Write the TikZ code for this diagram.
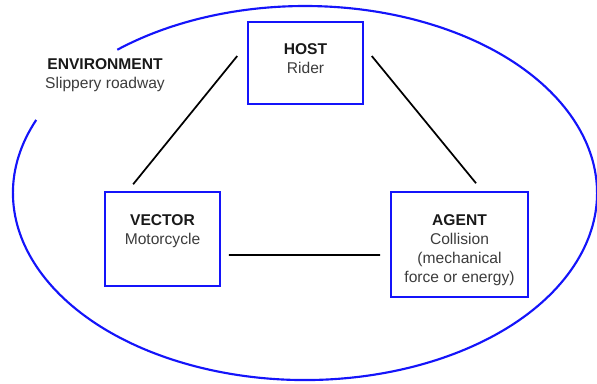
\documentclass[tikz,border=0pt]{standalone}
\usepackage{fontspec}
\setmainfont{Liberation Sans}
\usepackage{xcolor}
\definecolor{envblue}{RGB}{20,20,250}
\definecolor{subgray}{RGB}{60,60,60}

\begin{document}
\begin{tikzpicture}[
    x=0.75pt, y=0.75pt,
    font=\fontsize{11.7}{14.25}\selectfont,
    triadbox/.style={draw=envblue, line width=1.15pt, rectangle, inner sep=0pt},
    boxtext/.style={anchor=north, align=center, inner sep=0pt, text=subgray},
    link/.style={line width=1.3pt, black},
]
\useasboundingbox (0,0) rectangle (597,-383);

% Environment ellipse (open at upper left)
\draw[envblue, line width=1.6pt] (305,-193) ++(157:219pt and 140.25pt)
    arc[start angle=157, end angle=490, x radius=219pt, y radius=140.25pt];
\node[align=center, text=subgray] (env) at (105,-75.5)
    {\textcolor{black!90}{\textbf{ENVIRONMENT}}\\Slippery roadway};

% Host
\node[triadbox, minimum width=86.25pt, minimum height=61.5pt] (host) at (305.5,-63) {};
\node[boxtext] (hosttxt) at ([yshift=-16.5pt]host.north)
    {\textcolor{black!90}{\textbf{HOST}}\\Rider};

% Vector
\node[triadbox, minimum width=86.25pt, minimum height=70.5pt] (vector) at (162.5,-239) {};
\node[boxtext] (vectortxt) at ([yshift=-17pt]vector.north)
    {\textcolor{black!90}{\textbf{VECTOR}}\\Motorcycle};

% Agent
\node[triadbox, minimum width=102.75pt, minimum height=78.75pt] (agent) at (459.5,-244.5) {};
\node[boxtext] (agenttxt) at ([yshift=-17pt]agent.north)
    {\textcolor{black!90}{\textbf{AGENT}}\\Collision\\(mechanical\\force or energy)};

% Links
\draw[link] ([xshift=-7.5pt,yshift=5.25pt]host.west) -- ([xshift=-22pt,yshift=5.25pt]vector.north);
\draw[link] ([xshift=6pt,yshift=5.25pt]host.east) -- ([xshift=12.4pt,yshift=6pt]agent.north);
\draw[link] ([xshift=6pt,yshift=-12pt]vector.east) -- ([xshift=-7.5pt,yshift=-7.9pt]agent.west);

\end{tikzpicture}
\end{document}
